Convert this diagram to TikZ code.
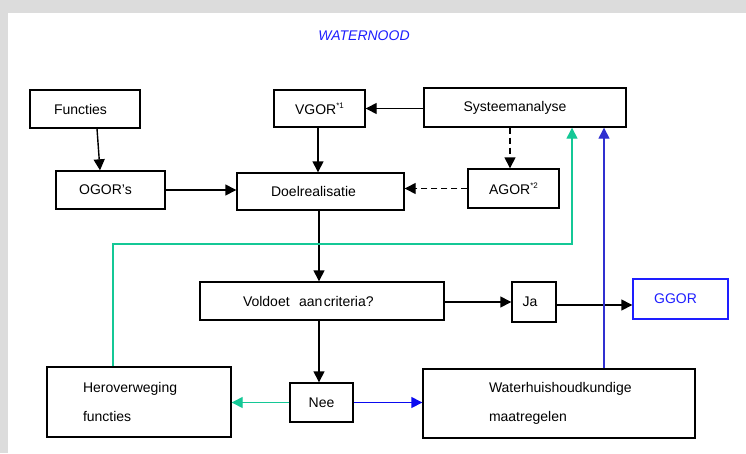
\documentclass[tikz,border=0pt]{standalone}
\usepackage{fontspec}
\setmainfont{Liberation Sans}
\usetikzlibrary{arrows.meta}
\definecolor{bggray}{RGB}{220,220,220}
\definecolor{fbgreen}{RGB}{20,200,150}
\definecolor{upblue}{RGB}{48,48,208}
\definecolor{nblue}{RGB}{10,10,240}
\definecolor{tblue}{RGB}{30,30,255}
\newcommand{\tsh}[1]{\hspace*{#1}}
\newcommand{\supmark}[1]{\raisebox{6pt}{\fontsize{8}{8}\selectfont #1}}
\begin{document}
\begin{tikzpicture}[x=1pt,y=-1pt,
  box/.style={draw=black,line width=1.4pt,inner sep=0pt,font=\fontsize{14}{16}\selectfont},
  twoline/.style={box,align=left,font=\fontsize{14}{29}\selectfont},
  arr/.style={line width=1.4pt,-{Triangle[length=11pt,width=11pt]}},
  darr/.style={arr,dash pattern=on 6pt off 4pt}]
\path[use as bounding box,fill=bggray] (0,0) rectangle (746,453);
\fill[white] (8,13) rectangle (746,453);
\node[text=tblue,font=\fontsize{14}{16}\selectfont\itshape] (title) at (364,36) {WATERNOOD};
% boxes
\node[box,minimum width=110pt,minimum height=38pt] (func) at (85,109) {\tsh{-9pt}Functies};
\node[box,minimum width=109pt,minimum height=38pt] (ogor) at (110.5,190) {\tsh{-10pt}OGOR's};
\node[box,minimum width=91pt,minimum height=37pt] (vgor) at (319.5,108.5) {VGOR\supmark{*1}};
\node[box,minimum width=202pt,minimum height=39pt] (syst) at (525,107.5) {\tsh{-20pt}Systeemanalyse};
\node[box,minimum width=167pt,minimum height=37pt] (doel) at (320.5,191.5) {\tsh{-14pt}Doelrealisatie};
\node[box,minimum width=91pt,minimum height=39pt] (agor) at (513.5,188.5) {AGOR\supmark{*2}};
\node[box,minimum width=244pt,minimum height=38pt,text width=244pt,align=left] (vold) at (322,301) {\tsh{43pt}Voldoet\ \ aan\hspace{1.5pt}criteria?};
\node[box,minimum width=44pt,minimum height=40pt] (ja) at (534,302) {\tsh{-8pt}Ja};
\node[box,draw=tblue,text=tblue,minimum width=95pt,minimum height=40pt] (ggor) at (680.5,299) {\tsh{-10pt}GGOR};
\node[twoline,minimum width=184pt,minimum height=70pt,text width=184pt] (herov) at (139,402) {\tsh{36pt}Heroverweging\\\tsh{36pt}functies};
\node[box,minimum width=63pt,minimum height=39pt] (nee) at (321.5,402.5) {Nee};
\node[twoline,minimum width=272pt,minimum height=69pt,text width=272pt] (water) at (559,403.5) {\tsh{66pt}Waterhuishoudkundige\\\tsh{66pt}maatregelen};
\coordinate (gturn) at (572,244);
% connectors
\draw[arr] ([xshift=12pt]func.south) -- ([xshift=-10.5pt]ogor.north);
\draw[arr] (ogor.east) -- (ogor.east -| doel.west);
\draw[arr] (vgor.east -| syst.west) -- (vgor.east);
\draw[arr] ([xshift=-1.5pt]vgor.south) -- ([xshift=-1.5pt]vgor.south |- doel.north);
\draw[darr] ([xshift=-3.5pt]agor.north |- syst.south) -- ([xshift=-3.5pt]agor.north);
\draw[darr] (agor.west) -- (agor.west -| doel.east);
\draw[arr] ([xshift=-1.5pt]doel.south) -- ([xshift=-1.5pt]doel.south |- vold.north);
\draw[arr] ([xshift=-3pt]vold.south) -- ([xshift=-3pt]vold.south |- nee.north);
\draw[arr] ([yshift=-1pt]vold.east) -- ([yshift=-1pt]vold.east -| ja.west);
\draw[arr] ([yshift=-3pt]ja.east) -- ([yshift=-3pt]ja.east -| ggor.west);
\draw[arr,fbgreen] (nee.west) -- (nee.west -| herov.east);
\draw[arr,nblue] (nee.east) -- (nee.east -| water.west);
\draw[arr,fbgreen] ([xshift=-26pt]herov.north) |- (gturn) -- (gturn |- syst.south);
\draw[arr,upblue] ([xshift=45pt]water.north) -- ([xshift=45pt]water.north |- syst.south);
\end{tikzpicture}
\end{document}
